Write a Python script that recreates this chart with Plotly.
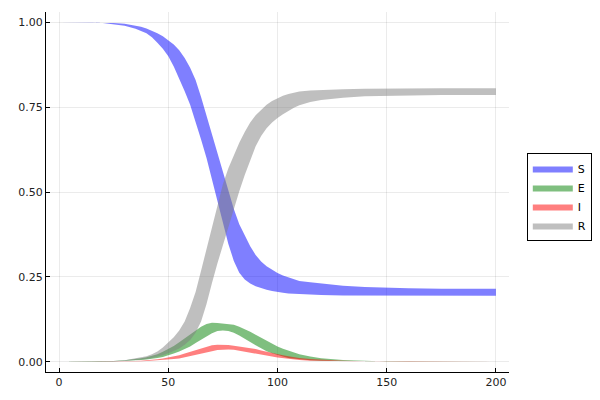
import plotly.graph_objects as go

# time points (days)
t = [0, 5, 10, 15, 20, 25, 30, 35, 37.5,
     40, 42.5, 45, 47.5, 50, 52.5, 55, 57.5, 60, 62.5, 65, 67.5, 70, 72.5, 75, 77.5,
     80, 82.5, 85, 87.5, 90, 92.5, 95, 97.5, 100, 102.5, 105, 107.5, 110,
     115, 120, 130, 140, 150, 160, 175, 200]

# ribbon bounds
S_lo = [1.0, 1.0, 0.9998, 0.9993, 0.998, 0.995, 0.99, 0.981, 0.975,
        0.968, 0.956, 0.94, 0.922, 0.90, 0.870, 0.835, 0.797, 0.757, 0.708, 0.655, 0.600,
        0.543, 0.478, 0.412, 0.347, 0.297, 0.262, 0.242, 0.230, 0.222, 0.216, 0.212, 0.208,
        0.205, 0.203, 0.201, 0.200, 0.199,
        0.1975, 0.1965, 0.1953, 0.1947, 0.1944, 0.1942, 0.194, 0.194]
S_up = [1.0, 1.0, 1.0, 0.9998, 0.9995, 0.998, 0.996, 0.991, 0.987,
        0.982, 0.976, 0.968, 0.959, 0.948, 0.935, 0.918, 0.895, 0.866, 0.83, 0.78, 0.725,
        0.672, 0.615, 0.558, 0.503, 0.45, 0.405, 0.37, 0.34, 0.314, 0.295, 0.281, 0.27,
        0.261, 0.254, 0.248, 0.243, 0.238,
        0.234, 0.23, 0.224, 0.22, 0.2175, 0.216, 0.215, 0.2145]

E_lo = [0.0, 0.0, 0.0001, 0.0003, 0.0005, 0.001, 0.002, 0.0035, 0.0045,
        0.006, 0.008, 0.011, 0.014, 0.018, 0.024, 0.03, 0.037, 0.045, 0.055, 0.065, 0.075,
        0.084, 0.09, 0.092, 0.09, 0.085, 0.077, 0.068, 0.058, 0.048, 0.039, 0.031, 0.025,
        0.019, 0.015, 0.011, 0.009, 0.007,
        0.004, 0.0025, 0.001, 0.0004, 0.0001, 0.0, 0.0, 0.0]
E_up = [0.0, 0.0001, 0.0003, 0.0006, 0.001, 0.002, 0.004, 0.007, 0.01,
        0.013, 0.017, 0.022, 0.029, 0.037, 0.046, 0.057, 0.069, 0.081, 0.093, 0.103, 0.111,
        0.115, 0.114, 0.112, 0.112, 0.109, 0.103, 0.096, 0.088, 0.079, 0.07, 0.062, 0.053,
        0.045, 0.038, 0.032, 0.026, 0.022,
        0.015, 0.01, 0.0045, 0.002, 0.0008, 0.0003, 0.0001, 0.0]

I_lo = [0.0, 0.0, 0.0, 0.0001, 0.0002, 0.0003, 0.0005, 0.001, 0.0015,
        0.002, 0.0025, 0.003, 0.0045, 0.006, 0.0075, 0.009, 0.012, 0.015, 0.019, 0.023, 0.027,
        0.031, 0.034, 0.036, 0.036, 0.035, 0.033, 0.031, 0.028, 0.025, 0.021, 0.018, 0.015,
        0.012, 0.01, 0.008, 0.0065, 0.005,
        0.003, 0.002, 0.0008, 0.0003, 0.0001, 0.0, 0.0, 0.0]
I_up = [0.0, 0.0, 0.0001, 0.0002, 0.0004, 0.0007, 0.001, 0.002, 0.003,
        0.004, 0.0055, 0.007, 0.0095, 0.012, 0.0155, 0.019, 0.024, 0.029, 0.035, 0.040, 0.045,
        0.048, 0.05, 0.05, 0.049, 0.047, 0.045, 0.043, 0.04, 0.037, 0.033, 0.029, 0.026,
        0.022, 0.019, 0.016, 0.013, 0.011,
        0.008, 0.0055, 0.0025, 0.001, 0.0005, 0.0002, 0.0001, 0.0]

R_lo = [0.0, 0.0, 0.0, 0.0001, 0.0003, 0.0008, 0.002, 0.004, 0.006,
        0.008, 0.011, 0.014, 0.019, 0.025, 0.031, 0.039, 0.05, 0.064, 0.085, 0.118, 0.17,
        0.232, 0.29, 0.345, 0.398, 0.45, 0.502, 0.55, 0.595, 0.635, 0.665, 0.688, 0.705,
        0.718, 0.729, 0.739, 0.748, 0.756,
        0.765, 0.771, 0.778, 0.782, 0.784, 0.785, 0.786, 0.786]
R_up = [0.0, 0.0, 0.0001, 0.0003, 0.0008, 0.002, 0.004, 0.009, 0.012,
        0.016, 0.022, 0.03, 0.042, 0.056, 0.072, 0.092, 0.118, 0.158, 0.205, 0.268, 0.333,
        0.40, 0.465, 0.523, 0.57, 0.61, 0.645, 0.677, 0.705, 0.726, 0.743, 0.757, 0.768,
        0.777, 0.784, 0.789, 0.793, 0.796,
        0.799, 0.801, 0.803, 0.804, 0.805, 0.805, 0.806, 0.806]

series = [
    ("S", S_lo, S_up, "rgba(0,0,255,0.5)"),
    ("E", E_lo, E_up, "rgba(0,128,0,0.5)"),
    ("I", I_lo, I_up, "rgba(255,0,0,0.5)"),
    ("R", R_lo, R_up, "rgba(128,128,128,0.5)"),
]

fig = go.Figure()
for name, lo, up, col in series:
    fig.add_trace(go.Scatter(
        x=t + t[::-1],
        y=up + lo[::-1],
        fill="toself",
        fillcolor=col,
        line=dict(width=0, color=col),
        mode="lines",
        name=name,
        hoverinfo="skip",
    ))

axis_common = dict(
    showline=True, linecolor="black", linewidth=1, mirror=False,
    ticks="inside", ticklen=4, tickcolor="black",
    showgrid=True, gridcolor="rgba(0,0,0,0.08)", gridwidth=0.6,
    zeroline=False, automargin=False,
    tickfont=dict(family="DejaVu Sans", size=11, color="#222"),
)

fig.update_layout(
    width=600, height=400,
    margin=dict(l=46, r=91, t=12, b=28, autoexpand=False),
    paper_bgcolor="white", plot_bgcolor="white",
    xaxis=dict(range=[-6, 206], tickvals=[0, 50, 100, 150, 200], **axis_common),
    yaxis=dict(range=[-0.0305, 1.0305], tickvals=[0, 0.25, 0.5, 0.75, 1.0],
               ticktext=["0.00", "0.25", "0.50", "0.75", "1.00"], **axis_common),
    legend=dict(xref="container", yref="container",
                x=0.878, xanchor="left", y=0.5075, yanchor="middle",
                bordercolor="black", borderwidth=1, bgcolor="white",
                font=dict(family="DejaVu Sans", size=11, color="black"),
                itemwidth=40, tracegroupgap=0),
    showlegend=True,
)

fig.write_html("out.html", config={"displayModeBar": False},
               post_script="document.body.style.margin='0';")
